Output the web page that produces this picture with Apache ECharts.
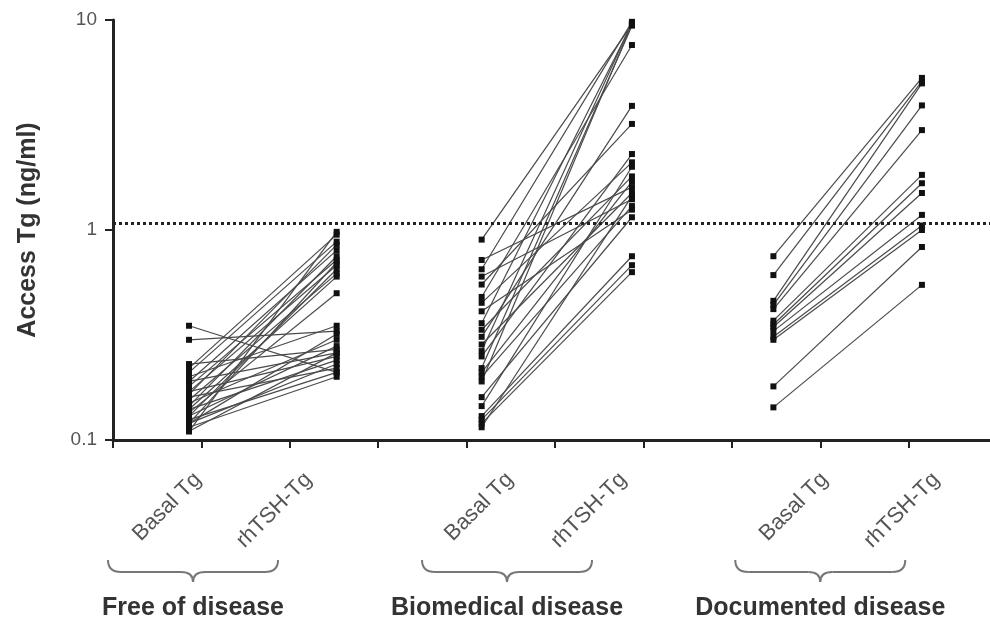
<!DOCTYPE html>
<html>
<head>
<meta charset="utf-8">
<title>Access Tg</title>
<script src="https://cdn.jsdelivr.net/npm/echarts/dist/echarts.min.js"></script>
<style>
  html, body { margin: 0; padding: 0; background: #fff; }
  #chart { width: 990px; height: 622px; }
</style>
</head>
<body>
<div id="chart"></div>
<script>
// paired Tg values (ng/ml), basal -> after rhTSH, one entry per patient
const freeBasal = [0.35, 0.30, 0.23, 0.22, 0.21, 0.20, 0.19, 0.19, 0.18, 0.17, 0.17, 0.16, 0.155, 0.15,
  0.145, 0.14, 0.135, 0.13, 0.13, 0.125, 0.12, 0.12, 0.115, 0.11, 0.11, 0.14, 0.165, 0.12]
const freeRhTSH = [0.21, 0.33, 0.27, 0.95, 0.88, 0.35, 0.80, 0.26, 0.72, 0.25, 0.68, 0.22, 0.62, 0.30,
  0.75, 0.24, 0.50, 0.28, 0.65, 0.21, 0.23, 0.70, 0.20, 0.26, 0.98, 0.60, 0.85, 0.32]

const bioBasal = [0.90, 0.72, 0.65, 0.60, 0.55, 0.48, 0.45, 0.41, 0.36, 0.335, 0.31, 0.285, 0.265, 0.25,
  0.22, 0.21, 0.20, 0.19, 0.16, 0.145, 0.13, 0.125, 0.12, 0.115]
const bioRhTSH = [9.5, 1.6, 9.8, 1.4, 3.2, 7.6, 2.1, 1.25, 9.6, 1.8, 3.9, 1.5, 9.7, 2.3,
  9.4, 1.7, 1.3, 9.6, 1.15, 2.0, 0.75, 0.68, 0.63, 1.45]

const docBasal = [0.75, 0.61, 0.46, 0.44, 0.42, 0.37, 0.355, 0.345, 0.33, 0.31, 0.30, 0.18, 0.143]
const docRhTSH = [5.3, 5.1, 4.99, 3.92, 2.99, 1.83, 1.67, 1.5, 1.18, 1.05, 1.0, 0.83, 0.548]

const cutoff = 1.08
const yTickLabels = ['0.1', '1', '10']
const timeLabels = ['Basal Tg', 'rhTSH-Tg']
const groupNames = ['Free of disease', 'Biomedical disease', 'Documented disease']

// layout on the x value axis (one unit = one axis tick)
const xMax = 9.92
const pointX = [[0.86, 2.53], [4.17, 5.87], [7.47, 9.15]]
const labelX = [[0.96, 2.21], [4.49, 5.77], [8.05, 9.31]]
const groupX = [0.905, 4.457, 8.0]

const groups = [
  { basal: freeBasal, rh: freeRhTSH },
  { basal: bioBasal, rh: bioRhTSH },
  { basal: docBasal, rh: docRhTSH }
]

const series = []
groups.forEach((g, gi) => {
  g.basal.forEach((v, i) => {
    series.push({
      type: 'line',
      xAxisIndex: 0,
      data: [[pointX[gi][0], v], [pointX[gi][1], g.rh[i]]],
      symbol: 'rect',
      symbolSize: 6,
      lineStyle: { color: '#4a4a4a', width: 1.2 },
      itemStyle: { color: '#111' },
      silent: true
    })
  })
})

// dotted cut-off line
series[0].markLine = {
  silent: true,
  symbol: ['none', 'none'],
  label: { show: false },
  lineStyle: { type: 'dotted', width: 3, color: '#222' },
  data: [{ yAxis: cutoff }]
}

const labelValues = labelX.flat()
const labelText = v => {
  const k = labelValues.findIndex(x => Math.abs(x - v) < 1e-6)
  return k < 0 ? '' : timeLabels[k % 2]
}
const groupText = v => {
  const k = groupX.findIndex(x => Math.abs(x - v) < 1e-6)
  return k < 0 ? '' : groupNames[k]
}

const chart = echarts.init(document.getElementById('chart'))
chart.setOption({
  animation: false,
  backgroundColor: '#fff',
  grid: { left: 113, right: 0, top: 20, bottom: 182 },
  xAxis: [
    {
      type: 'value', min: 0, max: xMax, interval: 1,
      axisLine: { lineStyle: { color: '#222', width: 3 } },
      axisTick: { show: true, length: 8, customValues: [0, 1, 2, 3, 4, 5, 6, 7, 8, 9],
        lineStyle: { color: '#222', width: 2 } },
      axisLabel: { show: false },
      splitLine: { show: false }
    },
    {
      type: 'value', min: 0, max: xMax, position: 'bottom',
      axisLine: { show: false }, axisTick: { show: false }, splitLine: { show: false },
      axisLabel: {
        customValues: labelValues, formatter: labelText, rotate: 45, margin: 36,
        fontFamily: 'Liberation Sans', fontSize: 22, color: '#555'
      }
    },
    {
      type: 'value', min: 0, max: xMax, position: 'bottom',
      axisLine: { show: false }, axisTick: { show: false }, splitLine: { show: false },
      axisLabel: {
        customValues: groupX, formatter: groupText, margin: 156,
        fontFamily: 'Liberation Sans', fontWeight: 'bold', fontSize: 25, color: '#333'
      }
    }
  ],
  yAxis: {
    type: 'log', logBase: 10, min: 0.1, max: 10,
    name: 'Access Tg (ng/ml)', nameLocation: 'middle', nameGap: 72,
    nameTextStyle: { fontFamily: 'Liberation Sans', fontWeight: 'bold', fontSize: 25, color: '#333' },
    axisLine: { lineStyle: { color: '#222', width: 3 } },
    axisTick: { show: true, length: 8, lineStyle: { color: '#222', width: 2 } },
    axisLabel: {
      margin: 16, fontFamily: 'Liberation Sans', fontSize: 19, color: '#555',
      formatter: v => yTickLabels[Math.round(Math.log10(v)) + 1] || ''
    },
    splitLine: { show: false },
    minorTick: { show: false }
  },
  series: series
})

// curly brackets under each pair of labels, built from lines and quadratic curves
const braceStyle = { stroke: '#777', lineWidth: 2, fill: null }
const braces = []
groupX.forEach(c => {
  const cx = chart.convertToPixel({ xAxisIndex: 0 }, c)
  const w = 85, y0 = 560, y1 = 572, y2 = 582
  const curve = (x1, ya, x2, yb, cpx, cpy) => ({
    type: 'bezierCurve', silent: true, style: braceStyle,
    shape: { x1: x1, y1: ya, x2: x2, y2: yb, cpx1: cpx, cpy1: cpy }
  })
  const seg = (x1, x2) => ({
    type: 'line', silent: true, style: braceStyle,
    shape: { x1: x1, y1: y1, x2: x2, y2: y1 }
  })
  braces.push(
    curve(cx - w, y0, cx - w + 13, y1, cx - w, y1),
    seg(cx - w + 13, cx - 12),
    curve(cx - 12, y1, cx, y2, cx, y1),
    curve(cx, y2, cx + 12, y1, cx, y1),
    seg(cx + 12, cx + w - 13),
    curve(cx + w - 13, y1, cx + w, y0, cx + w, y1)
  )
})
chart.setOption({ graphic: braces })
</script>
</body>
</html>
